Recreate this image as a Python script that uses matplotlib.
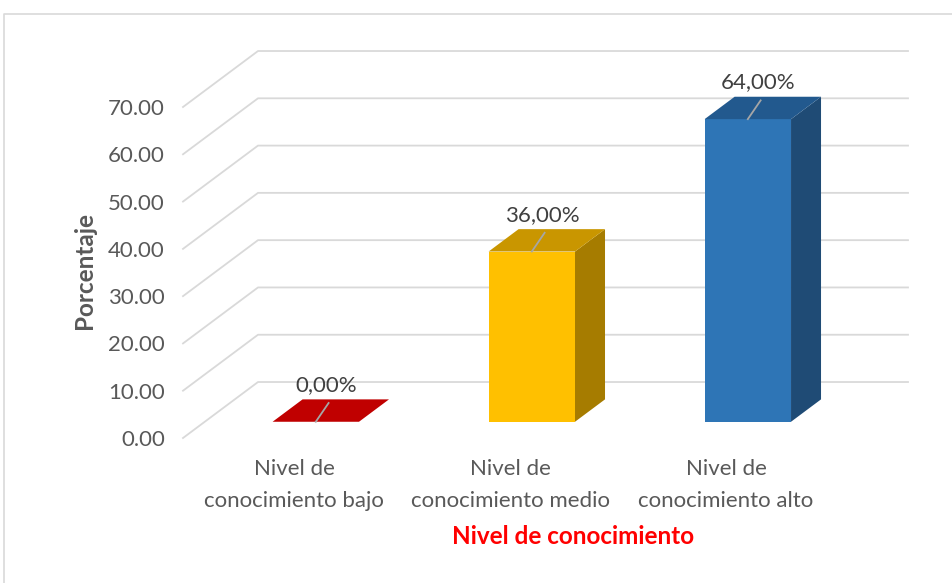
import numpy as np
import matplotlib.pyplot as plt
from matplotlib.patches import Polygon
from matplotlib.lines import Line2D

# data
categorias = ["Nivel de\nconocimiento bajo", "Nivel de\nconocimiento medio", "Nivel de\nconocimiento alto"]
porcentajes = [0.0, 36.0, 64.0]
etiquetas = ["0,00%", "36,00%", "64,00%"]
colores_frente = ["#C00000", "#FFC000", "#2E75B6"]
colores_arriba = ["#C00000", "#C99600", "#22598E"]
colores_lado = ["#8E0000", "#A67C00", "#1F4B75"]
ticks_y = np.arange(0, 80, 10)

plt.rcParams['font.family'] = ['Lato', 'DejaVu Sans']

W, H = 953, 583
fig = plt.figure(figsize=(W / 100, H / 100), dpi=100)

# light frame of the chart area (only top and left are visible)
fig.lines.append(Line2D([4 / W, 4 / W, 1.0], [0, 1 - 14 / H, 1 - 14 / H],
                        transform=fig.transFigure, color="#D9D9D9", linewidth=1.2))

# front plane of the floor/walls, in pixels
x_izq, x_der, y_bajo, y_alto = 183, 833, 438, 107
ax = fig.add_axes([x_izq / W, (H - y_bajo) / H, (x_der - x_izq) / W, (y_bajo - y_alto) / H])
xmin, xmax = -0.514, 2.495
ax.set_xlim(xmin, xmax)
ax.set_ylim(0, 70)

# oblique depth offset (data units)
DX = 75 / 216
DY = 56 / 4.73

# gridlines on the floor side + back wall
for v in ticks_y:
    ax.plot([xmin, xmin + DX, xmax + DX], [v, v + DY, v + DY], color="#D9D9D9",
            linewidth=1.3, clip_on=False, zorder=1)

# 3d bars
ancho = 0.4
d0, d1 = 0.29, 0.69
for i, v in enumerate(porcentajes):
    x0 = i - ancho / 2 + d0 * DX
    x1 = i + ancho / 2 + d0 * DX
    b = d0 * DY
    t = v + d0 * DY
    ox = (d1 - d0) * DX
    oy = (d1 - d0) * DY
    if v > 0:
        ax.add_patch(Polygon([(x1, b), (x1 + ox, b + oy), (x1 + ox, t + oy), (x1, t)],
                             closed=True, facecolor=colores_lado[i], edgecolor="none",
                             clip_on=False, zorder=3))
        ax.add_patch(Polygon([(x0, b), (x1, b), (x1, t), (x0, t)], closed=True,
                             facecolor=colores_frente[i], edgecolor="none", clip_on=False, zorder=4))
    ax.add_patch(Polygon([(x0, t), (x1, t), (x1 + ox, t + oy), (x0 + ox, t + oy)],
                         closed=True, facecolor=colores_arriba[i], edgecolor="none",
                         clip_on=False, zorder=4))
    # leader line and label
    cx = i + d0 * DX
    ax.plot([cx, i + 0.16], [t, v + 7.4], color="#A6A6A6", linewidth=1.3,
            clip_on=False, zorder=5)
    ax.text(i + 0.15, v + 11.2, etiquetas[i], ha="center", va="center",
            fontsize=16, color="#404040", zorder=6)

for s in ax.spines.values():
    s.set_visible(False)
ax.set_yticks(ticks_y)
ax.set_yticklabels(["%.2f" % t for t in ticks_y], fontsize=16, color="#595959")
ax.tick_params(axis="y", length=0, pad=13)
ax.set_xticks(range(len(categorias)))
ax.set_xticklabels(categorias, fontsize=16, color="#595959", linespacing=1.75)
ax.tick_params(axis="x", length=0, pad=15)
ax.patch.set_alpha(0)

fig.text(84 / W, 1 - 270 / H, "Porcentaje", rotation=90, ha="center", va="center",
         fontsize=17.5, fontweight="bold", color="#595959")
fig.text(573 / W, 1 - 537 / H, "Nivel de conocimiento", ha="center", va="center",
         fontsize=17.5, fontweight="bold", color="#FF0000")

fig.savefig("out.png", dpi=100)
